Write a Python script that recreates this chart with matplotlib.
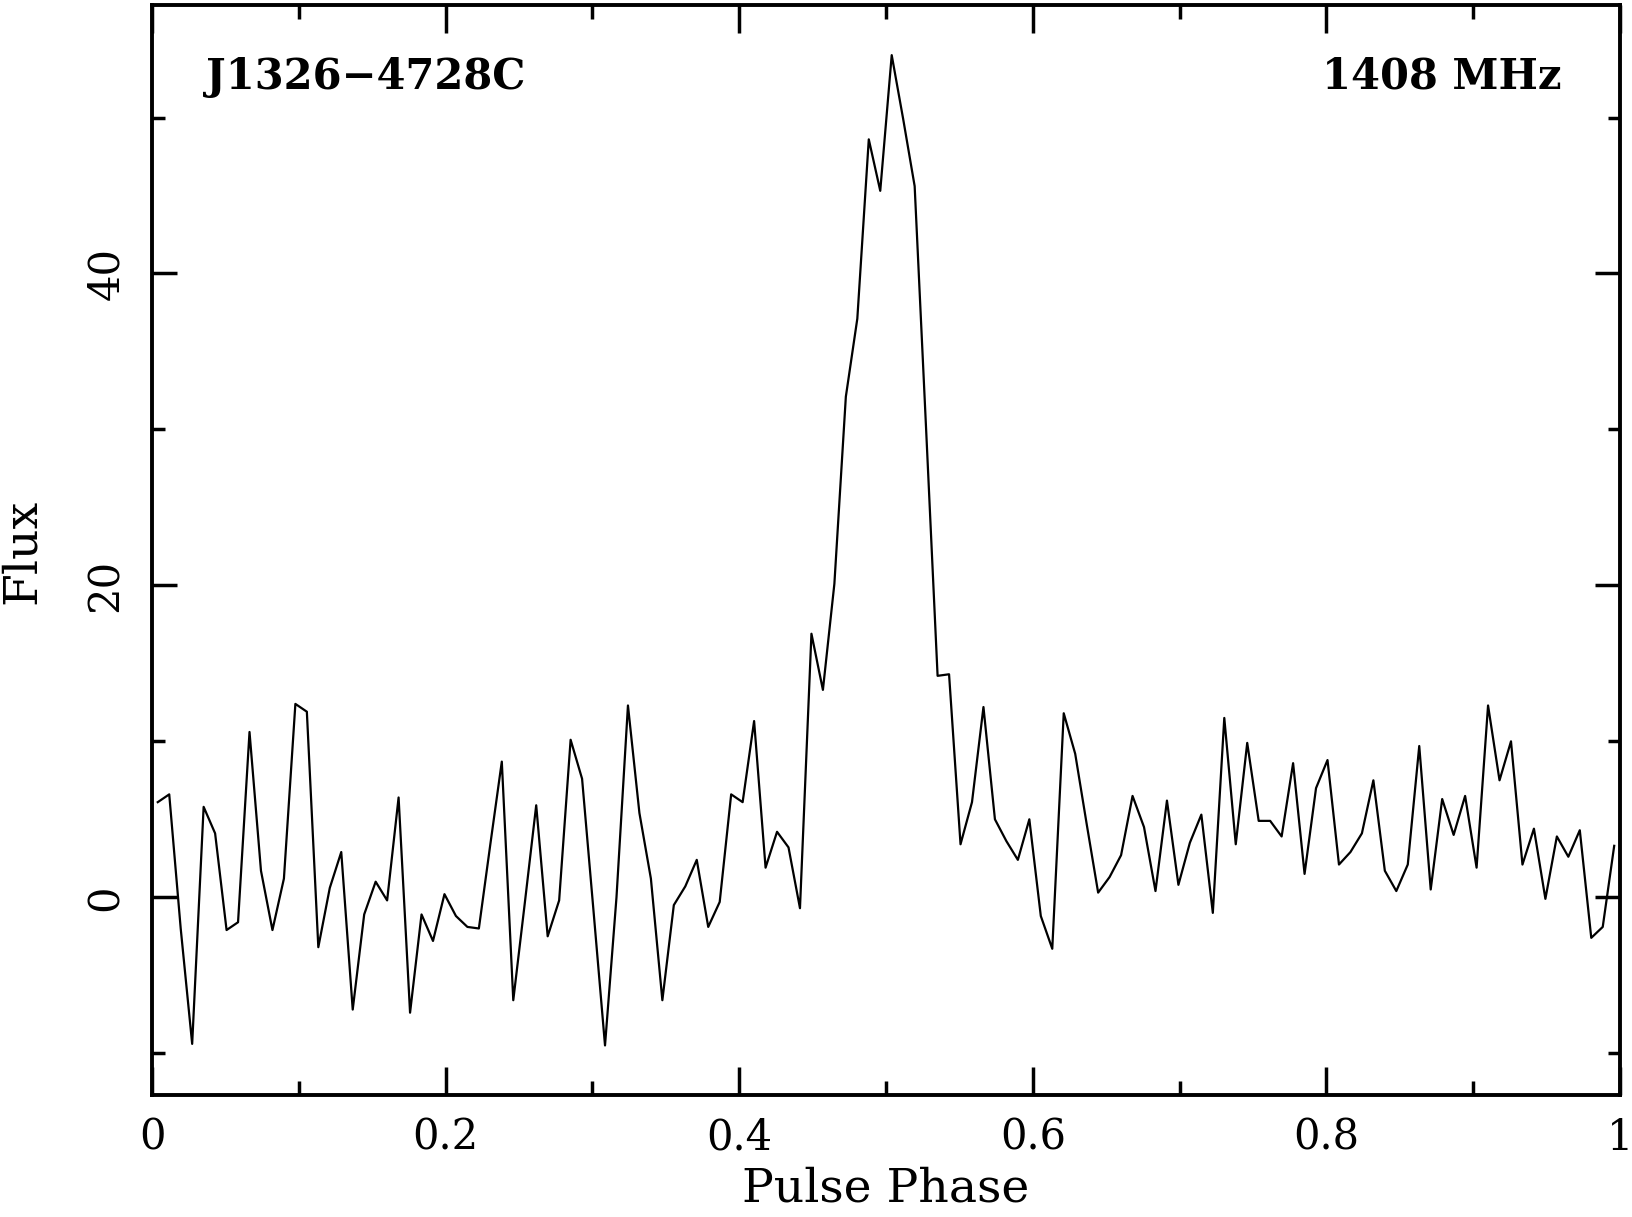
import numpy as np
import matplotlib
matplotlib.use("Agg")
import matplotlib.pyplot as plt
from matplotlib.ticker import MultipleLocator

# pulse profile, 128 phase bins
flux = [6.1, 6.6, -2.0, -9.4, 5.8, 4.1, -2.1, -1.6, 10.6, 1.7,
        -2.1, 1.2, 12.4, 11.9, -3.2, 0.6, 2.9, -7.2, -1.1, 1.0,
        -0.2, 6.4, -7.4, -1.1, -2.8, 0.2, -1.2, -1.9, -2.0, 3.4,
        8.7, -6.6, -0.4, 5.9, -2.5, -0.2, 10.1, 7.6, -0.9, -9.5,
        0.0, 12.3, 5.4, 1.2, -6.6, -0.5, 0.7, 2.4, -1.9, -0.3,
        6.6, 6.1, 11.3, 1.9, 4.2, 3.2, -0.7, 16.9, 13.3, 20.1,
        32.1, 37.1, 48.6, 45.3, 54.0, 49.9, 45.6, 30.0, 14.2, 14.3,
        3.4, 6.1, 12.2, 5.0, 3.6, 2.4, 5.0, -1.2, -3.3, 11.8,
        9.2, 4.7, 0.3, 1.3, 2.7, 6.5, 4.5, 0.4, 6.2, 0.8,
        3.5, 5.3, -1.0, 11.5, 3.4, 9.9, 4.9, 4.9, 3.9, 8.6,
        1.5, 7.0, 8.8, 2.1, 2.9, 4.1, 7.5, 1.7, 0.4, 2.1,
        9.7, 0.5, 6.3, 4.0, 6.5, 1.9, 12.3, 7.5, 10.0, 2.1,
        4.4, -0.1, 3.9, 2.6, 4.3, -2.6, -1.9, 3.3]
nbins = len(flux)
phase = (np.arange(nbins) + 0.5) / nbins

psr_name = "J1326\u22124728C"
freq_label = "1408 MHz"

plt.rcParams['font.family'] = ['DejaVu Serif']

fig = plt.figure(figsize=(16.33, 12.17), dpi=100)
ax = fig.add_axes([0.0931, 0.1006, 0.8989, 0.8951])

ax.plot(phase, flux, color='black', lw=1.6)

ax.set_xlim(0, 1)
ax.set_ylim(-12.65, 57.2)

ax.xaxis.set_major_locator(MultipleLocator(0.2))
ax.xaxis.set_minor_locator(MultipleLocator(0.1))
ax.yaxis.set_major_locator(MultipleLocator(20))
ax.yaxis.set_minor_locator(MultipleLocator(10))
ax.xaxis.set_major_formatter(plt.FuncFormatter(lambda v, p: "%g" % v))

for s in ax.spines.values():
    s.set_linewidth(2.8)

ax.tick_params(axis='x', which='major', direction='in', length=20, width=2.5,
               top=True, labelsize=30, pad=16)
ax.tick_params(axis='x', which='minor', direction='in', length=10, width=2.5, top=True)
ax.tick_params(axis='y', which='major', direction='in', length=18, width=2.5,
               right=True, labelsize=30, pad=18, labelrotation=90)
ax.tick_params(axis='y', which='minor', direction='in', length=9, width=2.5, right=True)
for lab in ax.get_yticklabels():
    lab.set_verticalalignment('center')

ax.text(0.0368, 0.9235, psr_name, transform=ax.transAxes, fontsize=30,
        fontweight='bold', ha='left', va='baseline')
ax.text(0.9605, 0.9235, freq_label, transform=ax.transAxes, fontsize=30,
        fontweight='bold', ha='right', va='baseline')

fig.text(886 / 1633, 1 - 1166 / 1217, "Pulse Phase", fontsize=34,
         ha='center', va='top')
fig.text(22 / 1633, 1 - 551 / 1217, "Flux", fontsize=34, rotation=90,
         ha='center', va='center')

fig.savefig("out.png", dpi=100)
